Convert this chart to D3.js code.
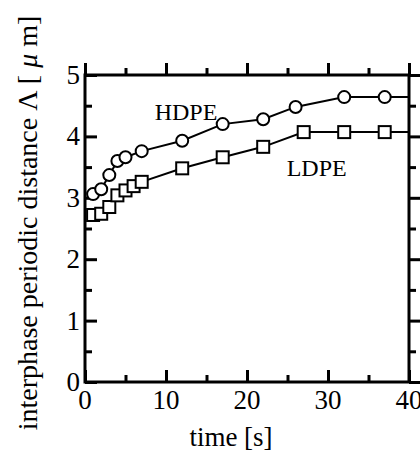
<!DOCTYPE html>
<html>
<head>
<meta charset="utf-8">
<script src="https://cdn.jsdelivr.net/npm/d3@7"></script>
<style>
  body { margin: 0; background: #fff; }
  svg text { font-family: "Liberation Serif", "DejaVu Serif", serif; fill: #000; }
</style>
</head>
<body>
<svg width="420" height="452"></svg>
<script>
// data
var hdpeTime = [1, 2, 3, 4, 5, 7, 12, 17, 22, 26, 32, 37, 40];
var hdpeVal  = [3.06, 3.14, 3.37, 3.60, 3.66, 3.76, 3.93, 4.20, 4.28, 4.48, 4.64, 4.64, 4.64];
var ldpeTime = [1, 2, 3, 4, 5, 6, 7, 12, 17, 22, 27, 32, 37, 40];
var ldpeVal  = [2.72, 2.74, 2.85, 3.04, 3.12, 3.19, 3.26, 3.48, 3.66, 3.83, 4.07, 4.07, 4.07, 4.07];
var xTicks = [0, 10, 20, 30, 40];
var yTicks = [0, 1, 2, 3, 4, 5];

var svg = d3.select("svg"),
    margin = {top: 75, right: 11, bottom: 70, left: 85},
    width = 420 - margin.left - margin.right,
    height = 452 - margin.top - margin.bottom;

var x = d3.scaleLinear().domain([0, 40]).range([0, width]),
    y = d3.scaleLinear().domain([0, 5]).range([height, 0]);

var g = svg.append("g")
    .attr("transform", "translate(" + margin.left + "," + margin.top + ")");

g.append("defs").append("clipPath").attr("id", "clip")
  .append("rect").attr("width", width).attr("height", height);

// inward ticks on all four sides
function ticks(axis, vals, len) {
  return axis.tickValues(vals).tickSize(-len).tickFormat("");
}
var xMinor = d3.range(5, 40, 10), yMinor = d3.range(0.5, 5, 1);

g.append("g").attr("class", "tk").attr("transform", "translate(0," + height + ")")
  .call(ticks(d3.axisBottom(x), xTicks, 12));
g.append("g").attr("class", "tk").attr("transform", "translate(0," + height + ")")
  .call(ticks(d3.axisBottom(x), xMinor, 7));
g.append("g").attr("class", "tk")
  .call(ticks(d3.axisTop(x), xTicks, -12));
g.append("g").attr("class", "tk")
  .call(ticks(d3.axisTop(x), xMinor, -7));
g.append("g").attr("class", "tk")
  .call(ticks(d3.axisLeft(y), yTicks, 12));
g.append("g").attr("class", "tk")
  .call(ticks(d3.axisLeft(y), yMinor, 7));
g.append("g").attr("class", "tk").attr("transform", "translate(" + width + ",0)")
  .call(ticks(d3.axisRight(y), yTicks, -12));
g.append("g").attr("class", "tk").attr("transform", "translate(" + width + ",0)")
  .call(ticks(d3.axisRight(y), yMinor, -7));

g.selectAll(".tk .domain").remove();
g.selectAll(".tk line").attr("stroke", "#000").attr("stroke-width", 3);

g.append("rect")
    .attr("width", width).attr("height", height)
    .attr("fill", "none").attr("stroke", "#000").attr("stroke-width", 3);

// tick labels
g.selectAll(".xl").data(xTicks).enter().append("text")
    .attr("x", function(d) { return x(d); })
    .attr("y", height + 27)
    .attr("text-anchor", "middle")
    .style("font-size", "27px")
    .text(function(d) { return d; });

g.selectAll(".yl").data(yTicks).enter().append("text")
    .attr("x", -5)
    .attr("y", function(d) { return y(d) + 9; })
    .attr("text-anchor", "end")
    .style("font-size", "27px")
    .text(function(d) { return d; });

svg.append("text")
    .attr("x", 231)
    .attr("y", 446)
    .attr("text-anchor", "middle")
    .style("font-size", "27px")
    .text("time [s]");

var yl = svg.append("text")
    .attr("transform", "translate(37,223) rotate(-90)")
    .attr("text-anchor", "middle")
    .style("font-size", "28px");
yl.append("tspan").text("interphase periodic distance \u039B [ ");
yl.append("tspan").style("font-style", "italic").text("\u03BC");
yl.append("tspan").text(" m]");

// series
var line = d3.line()
    .x(function(d) { return x(d[0]); })
    .y(function(d) { return y(d[1]); });

var hdpe = d3.zip(hdpeTime, hdpeVal),
    ldpe = d3.zip(ldpeTime, ldpeVal);

[hdpe, ldpe].forEach(function(s) {
  g.append("path").datum(s)
      .attr("clip-path", "url(#clip)")
      .attr("fill", "none").attr("stroke", "#000").attr("stroke-width", 2)
      .attr("d", line);
});

g.selectAll(".c").data(hdpe.filter(function(d) { return d[0] < 40; })).enter().append("circle")
    .attr("cx", function(d) { return x(d[0]); })
    .attr("cy", function(d) { return y(d[1]); })
    .attr("r", 6)
    .attr("fill", "#fff").attr("stroke", "#000").attr("stroke-width", 2);

g.selectAll(".s").data(ldpe.filter(function(d) { return d[0] < 40; })).enter().append("rect")
    .attr("x", function(d) { return x(d[0]) - 6; })
    .attr("y", function(d) { return y(d[1]) - 6; })
    .attr("width", 12).attr("height", 12)
    .attr("fill", "#fff").attr("stroke", "#000").attr("stroke-width", 2);

g.append("text").attr("x", x(8.6)).attr("y", y(4.27)).style("font-size", "24px").text("HDPE");
g.append("text").attr("x", x(24.9)).attr("y", y(3.35)).style("font-size", "24px").text("LDPE");
</script>
</body>
</html>
